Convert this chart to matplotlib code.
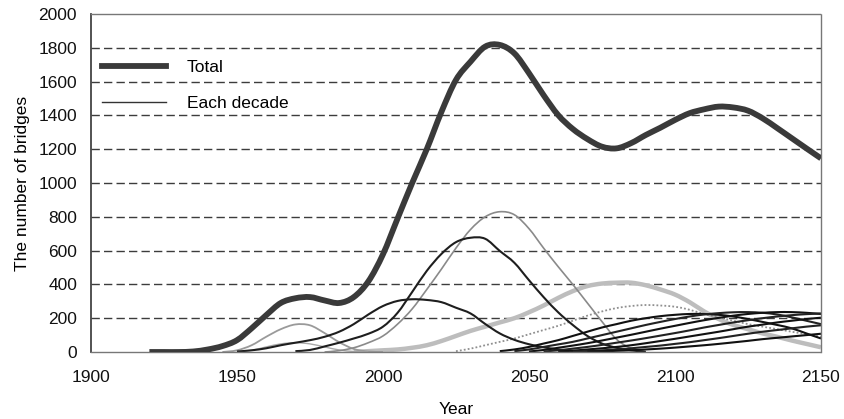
import numpy as np
import matplotlib
matplotlib.use("Agg")
from matplotlib import pyplot as plt
from matplotlib.lines import Line2D
from matplotlib.path import Path
from matplotlib.patches import PathPatch

plt.rcParams["font.family"] = ["Liberation Sans", "DejaVu Sans"]

# values every 5 years, starting at the given year
total_start = 1920
total = [0, 0, 0, 3, 15, 35, 70, 140, 218, 290,
         318, 325, 305, 290, 325, 418, 578, 790, 1000, 1200,
         1420, 1610, 1718, 1807, 1817, 1767, 1650, 1520, 1402, 1320,
         1260, 1215, 1205, 1236, 1284, 1327, 1373, 1413, 1436, 1452,
         1447, 1428, 1383, 1325, 1265, 1205, 1146]

dec_a_start = 1945
dec_a = [0, 10, 40, 90, 135, 163, 158, 112, 58, 18, 3, 0]
dec_b_start = 1950
dec_b = [0, 10, 30, 48, 55, 48, 30, 12, 3, 0]
dec_d_start = 1950
dec_d = [3, 10, 22, 40, 55, 70, 90, 120, 165, 222, 272, 302, 312, 308, 295,
         262, 228, 166, 110, 72, 46, 28, 15, 6, 0]
dec_e_start = 1970
dec_e = [5, 12, 33, 55, 80, 108, 150, 232, 355, 480, 580, 650, 676, 670,
         598, 528, 425, 325, 235, 160, 95, 50, 25, 10, 0]
dec_f_start = 1980
dec_f = [0, 8, 25, 55, 95, 165, 255, 370, 490, 615, 725, 800, 830, 812,
         730, 615, 505, 400, 290, 180, 75, 22, 3]
dec_g_start = 1990
dec_g = [0, 5, 10, 15, 25, 40, 65, 95, 125, 150, 175, 200, 235, 275, 320,
         360, 390, 405, 410, 410, 395, 370, 340, 295, 240, 195, 160, 135,
         110, 90, 68, 48, 28]
dec_h_start = 2025
dec_h = [5, 20, 40, 60, 80, 105, 130, 155, 185, 215, 240, 260, 272, 278,
         275, 268, 250, 225, 205, 185, 165, 150, 135, 120, 105, 90]
dec_k1_start = 2040
dec_k1 = [5, 15, 30, 50, 70, 95, 120, 145, 165, 185, 200, 212, 220, 225,
          225, 220, 210, 195, 178, 160, 140, 110, 80]
dec_k2_start = 2045
dec_k2 = [5, 15, 30, 45, 60, 80, 100, 120, 140, 160, 178, 195, 210, 222,
          230, 235, 236, 232, 222, 205, 185, 165]
dec_k3_start = 2050
dec_k3 = [3, 12, 25, 38, 52, 68, 85, 102, 120, 138, 155, 172, 188, 202,
          215, 225, 232, 236, 236, 232, 225]
dec_k4_start = 2055
dec_k4 = [3, 10, 20, 30, 42, 55, 68, 82, 97, 112, 128, 145, 160, 175, 188,
          200, 210, 218, 224, 228]
dec_k5_start = 2060
dec_k5 = [2, 8, 15, 22, 30, 40, 52, 65, 78, 92, 106, 120, 135, 150, 162,
          175, 185, 195, 203]
dec_k6_start = 2065
dec_k6 = [2, 6, 10, 15, 22, 30, 38, 48, 58, 70, 82, 95, 108, 120, 130,
          140, 150, 158]
dec_k7_start = 2070
dec_k7 = [2, 4, 7, 10, 15, 20, 26, 33, 40, 48, 57, 66, 76, 84, 92, 100, 108]

y_ticks = list(range(0, 2001, 200))
x_ticks = list(range(1900, 2151, 50))


def years_for(start, values):
    return np.arange(start, start + 5 * len(values), 5)


def smooth_path(start, values):
    # smoothed line like the spreadsheet one: bezier through every point
    pts = np.column_stack([years_for(start, values), values]).astype(float)
    padded = np.vstack([pts[0], pts, pts[-1]])
    verts = [pts[0]]
    codes = [Path.MOVETO]
    for i in range(1, len(padded) - 2):
        p0, p1, p2, p3 = padded[i - 1], padded[i], padded[i + 1], padded[i + 2]
        verts += [p1 + (p2 - p0) / 6, p2 - (p3 - p1) / 6, p2]
        codes += [Path.CURVE4] * 3
    return Path(verts, codes)


def draw_curve(ax, start, values, zorder=2, **style):
    patch = PathPatch(smooth_path(start, values), fill=False,
                      capstyle="butt", zorder=zorder, **style)
    ax.add_patch(patch)


decades = [
    (dec_g_start, dec_g, dict(edgecolor="#bdbdbd", lw=3.2)),
    (dec_h_start, dec_h, dict(edgecolor="#8f8f8f", lw=1.3, ls=(0, (1, 1.2)))),
    (dec_a_start, dec_a, dict(edgecolor="#9a9a9a", lw=1.3)),
    (dec_b_start, dec_b, dict(edgecolor="#a8a8a8", lw=1.0)),
    (dec_f_start, dec_f, dict(edgecolor="#8a8a8a", lw=1.2)),
    (dec_d_start, dec_d, dict(edgecolor="#1e1e1e", lw=1.5)),
    (dec_e_start, dec_e, dict(edgecolor="#1e1e1e", lw=1.5)),
    (dec_k1_start, dec_k1, dict(edgecolor="#111111", lw=1.5)),
    (dec_k2_start, dec_k2, dict(edgecolor="#222222", lw=1.5)),
    (dec_k3_start, dec_k3, dict(edgecolor="#111111", lw=1.5)),
    (dec_k4_start, dec_k4, dict(edgecolor="#222222", lw=1.5)),
    (dec_k5_start, dec_k5, dict(edgecolor="#111111", lw=1.5)),
    (dec_k6_start, dec_k6, dict(edgecolor="#222222", lw=1.5)),
    (dec_k7_start, dec_k7, dict(edgecolor="#111111", lw=1.5)),
]

fig = plt.figure(figsize=(8.44, 4.19), dpi=100)
ax = fig.add_axes([0.1078, 0.1599, 0.8649, 0.8067])

ax.hlines(y_ticks[1:-1], x_ticks[0], x_ticks[-1], colors="#3c3c3c",
          linestyles=(0, (6, 3)), lw=1.0, zorder=1)

for start, values, style in decades:
    draw_curve(ax, start, values, **style)

draw_curve(ax, total_start, total, zorder=3, edgecolor="#3a3a3a", lw=4.2)

ax.set_xlim(1900, 2150)
ax.set_ylim(0, 2000)
ax.set_xticks(x_ticks)
ax.set_yticks(y_ticks)
ax.tick_params(length=0, labelsize=12.5, labelcolor="#111111")
ax.tick_params(axis="y", pad=10)
ax.tick_params(axis="x", pad=13)

ax.spines["left"].set_color("#444444")
ax.spines["left"].set_linewidth(1.3)
for side in ["top", "right", "bottom"]:
    ax.spines[side].set_linestyle((0, (1, 1)))
    ax.spines[side].set_color("#777777")
    ax.spines[side].set_linewidth(1.0)

ax.set_xlabel("Year", fontsize=12.5, labelpad=12)
ax.set_ylabel("The number of bridges", fontsize=12.5, labelpad=6)

handles = [Line2D([], [], color="#3a3a3a", lw=4.2),
           Line2D([], [], color="#333333", lw=1.0)]
ax.legend(handles, ["Total", "Each decade"], loc="upper left",
          bbox_to_anchor=(0.005, 0.885), borderaxespad=0, frameon=False,
          fontsize=12.5, handlelength=3.7, handletextpad=1.2,
          labelspacing=1.2)

fig.savefig("out.png", dpi=100)
